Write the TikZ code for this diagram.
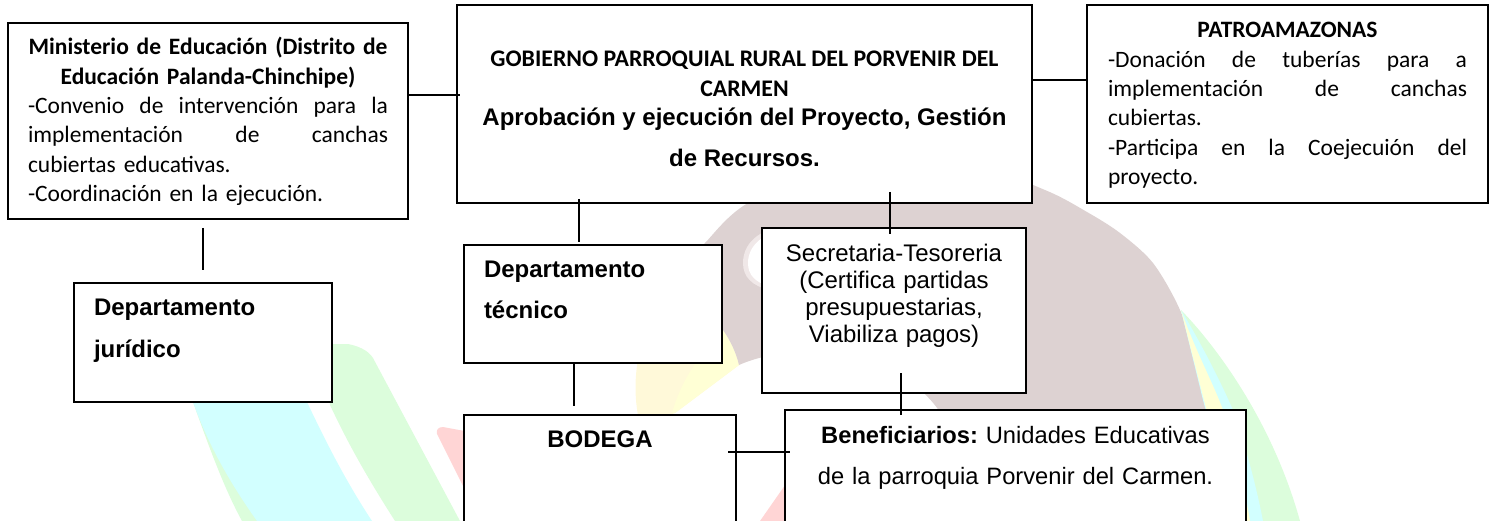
\documentclass[tikz,border=0pt]{standalone}
\usepackage{fontspec}
\setmainfont{Liberation Sans}
\newfontfamily\calfont{Carlito}
\newcommand{\jl}[1]{{\parfillskip=0pt\parindent=0pt\spaceskip=.23em plus 1fil\relax #1\par}}
\newcommand{\pln}[1]{{\parindent=0pt #1\par}}
\newcommand{\ctr}[1]{{\centering\parindent=0pt #1\par}}
\definecolor{wbrown}{HTML}{DDD2D2}
\definecolor{wpink}{HTML}{FFD5D5}
\definecolor{wgreen}{HTML}{DCFDDC}
\definecolor{wcyan}{HTML}{D2FFFF}
\definecolor{wyellow}{HTML}{FFFFD5}
\definecolor{wyellowb}{HTML}{FFF9D9}
\definecolor{wring}{HTML}{F0E8E8}
\tikzset{
  box/.style={draw=black,line width=1.8pt,fill=white,anchor=north west,inner ysep=0pt,outer sep=0pt},
  link/.style={draw=black,line width=1.6pt},
  calibri/.style={font=\calfont\fontsize{23.5}{29.3}\selectfont},
  arialb/.style={font=\fontsize{24}{41.5}\selectfont\bfseries},
  arialn/.style={font=\fontsize{24}{27}\selectfont}
}
\begin{document}
\frenchspacing
\begin{tikzpicture}[x=1pt,y=-1pt]
\useasboundingbox (0,0) rectangle (1496,521);
% watermark
\fill[wgreen] (193,402) .. controls (210,450) and (225,490) .. (242,521) -- (300,521) -- (250,402) -- cycle;
\fill[wcyan] (193,402) .. controls (210,450) and (235,490) .. (257,521) -- (372,521) .. controls (345,480) and (325,440) .. (307,402) -- cycle;
\fill[wgreen] (320,344) -- (348,344) .. controls (358,346) and (368,350) .. (373,358) -- (460,521) -- (395,521) .. controls (372,485) and (350,448) .. (330,405) -- cycle;
\fill[wpink] (470,432) -- (443,427) .. controls (438,427) and (436,430) .. (437,434) -- (470,500) -- cycle;
\fill[wpink] (790,478) -- (760,521) -- (790,521) -- cycle;
\fill[wyellowb] (723,330) .. controls (730,340) and (736,352) .. (739,365) -- (675,413) -- (640,425) .. controls (634,400) and (634,375) .. (640,350) -- cycle;
\fill[wyellow] (723,330) .. controls (730,340) and (736,352) .. (739,365) -- (675,413) -- (672,413) .. controls (680,385) and (695,360) .. (715,340) -- cycle;
\fill[wbrown] plot[smooth] coordinates {(690,262) (705,243) (748,203) (850,160) (960,160) (1045,190) (1087,212) (1120,233) (1153,263) (1180,310) (1200,370) (1207,410)} -- (1207,420) -- (945,420) .. controls (925,385) and (880,350) .. (800,352) .. controls (775,353) and (755,358) .. (739,365) .. controls (736,352) and (730,340) .. (723,330) -- cycle;
\fill[wring] (790,227) .. controls (765,226) and (743,240) .. (743,263) .. controls (743,277) and (752,286) .. (770,290) -- cycle;
\fill[white] (790,230) .. controls (768,230) and (748,243) .. (748,263) .. controls (748,275) and (755,282) .. (770,287) -- cycle;
\fill[wgreen] (1181,310) .. controls (1215,345) and (1272,420) .. (1300,521) -- (1240,521) -- (1207,413) -- cycle;
\fill[wcyan] (1181,310) .. controls (1205,350) and (1222,385) .. (1233,410) .. controls (1247,450) and (1257,490) .. (1263,521) -- (1236,521) -- (1203,400) -- cycle;
\fill[wyellow] (1181,310) .. controls (1195,350) and (1214,385) .. (1223,410) .. controls (1235,450) and (1245,490) .. (1250,521) -- (1236,521) -- (1207,412) -- cycle;
% boxes
\node[box,calibri,text width=360pt,inner xsep=20pt,text height=32pt,text depth=164pt] (min) at (8,23) {%
  \ctr{\textbf{Ministerio de Educación (Distrito de}}\ctr{\textbf{Educación Palanda-Chinchipe)}}%
  \jl{-Convenio de intervención para la}\jl{implementación de canchas}\pln{cubiertas educativas.}\pln{-Coordinación en la ejecución.}};
\node[box,text width=555pt,inner xsep=10pt,text height=62pt,text depth=136pt] (gob) at (457,5) {%
  \calfont\fontsize{23.8}{29.5}\selectfont\spaceskip=.226em\relax\ctr{\textbf{GOBIERNO PARROQUIAL RURAL DEL PORVENIR DEL}}\ctr{\textbf{CARMEN}}%
  \vspace*{-11.5pt}\rmfamily\fontsize{24}{41}\selectfont\spaceskip=.278em\relax\ctr{\textbf{Aprobación y ejecución del Proyecto, Gestión}}\ctr{\textbf{de Recursos.}}};
\node[box,calibri,text width=359pt,inner xsep=21pt,text height=33pt,text depth=165pt] (pat) at (1087,5) {%
  \ctr{\textbf{PATROAMAZONAS}}%
  \jl{-Donación de tuberías para a}\jl{implementación de canchas}\pln{cubiertas.}\jl{-Participa en la Coejecuión del}\pln{proyecto.}};
\node[box,arialb,text width=218pt,inner xsep=20pt,text height=33pt,text depth=86pt,align=left] (jur) at (74,283) {Departamento\\jurídico};
\node[box,arialb,text width=218pt,inner xsep=20pt,text height=32pt,text depth=86pt,align=left] (tec) at (464,245) {Departamento\\técnico};
\node[box,arialn,text width=244pt,inner xsep=10pt,text height=34pt,text depth=131pt,align=center] (sec) at (762,228) {Secretaria-Tesoreria\\(Certifica partidas\\presupuestarias,\\Viabiliza pagos)};
\node[box,arialb,text width=252pt,inner xsep=10pt,text height=32pt,text depth=90pt,align=center] (bod) at (464,415) {BODEGA};
\node[box,font=\fontsize{23.7}{41}\selectfont,text width=421pt,inner xsep=20pt,text height=33pt,text depth=90pt,align=center] (ben) at (785,410) {\textbf{Beneficiarios:} Unidades Educativas\\de la parroquia Porvenir del Carmen.};
% connector ends
\coordinate (minE) at (408,95); \coordinate (gobW) at (460,95);
\coordinate (gobE) at (1033,80); \coordinate (patW) at (1087,80);
\coordinate (minS) at (203,228); \coordinate (jurN) at (203,270);
\coordinate (gobSa) at (579,199); \coordinate (tecN) at (579,242);
\coordinate (gobSb) at (890,192); \coordinate (secN) at (890,234);
\coordinate (tecS) at (574,364); \coordinate (bodN) at (574,406);
\coordinate (secS) at (901,373); \coordinate (benN) at (901,415);
\coordinate (bodE) at (728,452); \coordinate (benW) at (790,452);
\draw[link] (minE) -- (gobW);
\draw[link] (gobE) -- (patW);
\draw[link] (minS) -- (jurN);
\draw[link] (gobSa) -- (tecN);
\draw[link] (gobSb) -- (secN);
\draw[link] (tecS) -- (bodN);
\draw[link] (secS) -- (benN);
\draw[link] (bodE) -- (benW);
\end{tikzpicture}
\end{document}
